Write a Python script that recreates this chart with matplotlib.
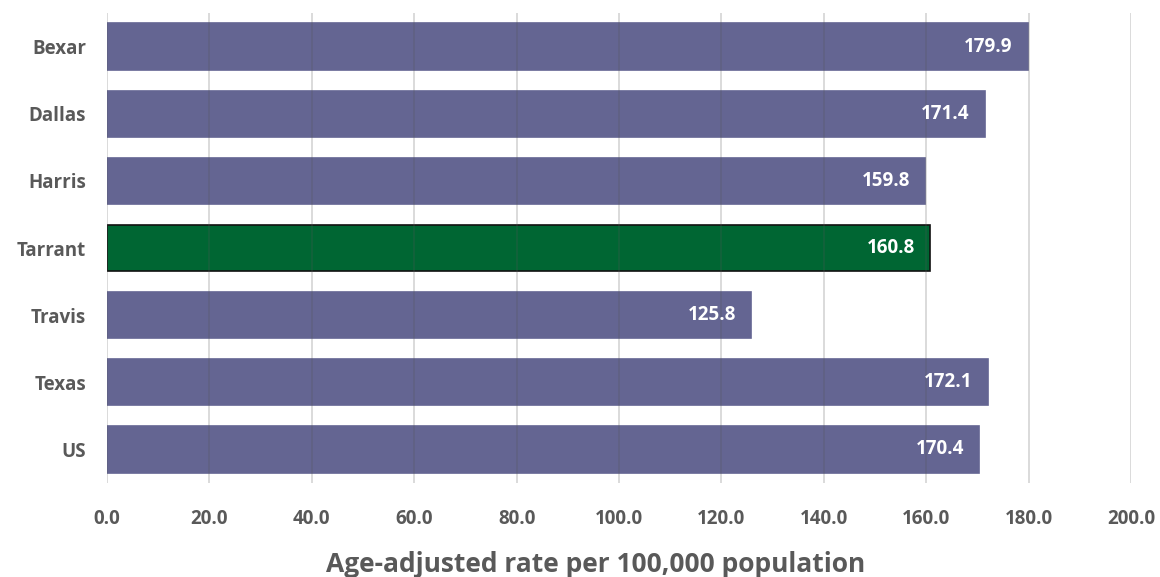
import numpy as np
import matplotlib.pyplot as plt

categories = ["Bexar", "Dallas", "Harris", "Tarrant", "Travis", "Texas", "US"]
rates = [179.9, 171.4, 159.8, 160.8, 125.8, 172.1, 170.4]
highlight = "Tarrant"

purple = "#646592"
green = "#006633"
grey = "#595959"

plt.rcParams['font.family'] = ['Open Sans', 'DejaVu Sans']

fig = plt.figure(figsize=(11.6, 5.77), dpi=100)
ax = fig.add_axes([107/1160, 1 - 483/577, 1024/1160, 470/577])

y = np.arange(len(categories))
colors = [green if c == highlight else purple for c in categories]
edges = ["#111111" if c == highlight else purple for c in categories]
ax.barh(y, rates, height=0.69, color=colors, edgecolor=edges, linewidth=1.2, zorder=2)

for yi, v in zip(y, rates):
    ax.text(v - 3, yi, f"{v:.1f}", ha="right", va="center", color="white",
            fontsize=13.5, fontweight="bold", zorder=4)

ax.set_xlim(0, 200)
ax.set_ylim(len(categories) - 0.5, -0.5)
ax.set_xticks(np.arange(0, 201, 20))
ax.set_xticklabels([f"{t:.1f}" for t in np.arange(0, 201, 20)])
ax.set_yticks(y)
ax.set_yticklabels(categories)

for t in np.arange(0, 201, 20):
    ax.axvline(t, color="#555555", alpha=0.25, linewidth=1.2, zorder=3)

for s in ax.spines.values():
    s.set_visible(False)
ax.tick_params(axis="both", length=0, labelsize=13.5, labelcolor=grey)
ax.tick_params(axis="x", pad=19)
ax.tick_params(axis="y", pad=15)
for lab in ax.get_xticklabels() + ax.get_yticklabels():
    lab.set_fontweight("bold")

fig.text(596 / 1160, 1 - 565/577, "Age-adjusted rate per 100,000 population",
         ha="center", va="center", fontsize=19, fontweight="bold", color=grey)

fig.savefig("out.png", dpi=100)
